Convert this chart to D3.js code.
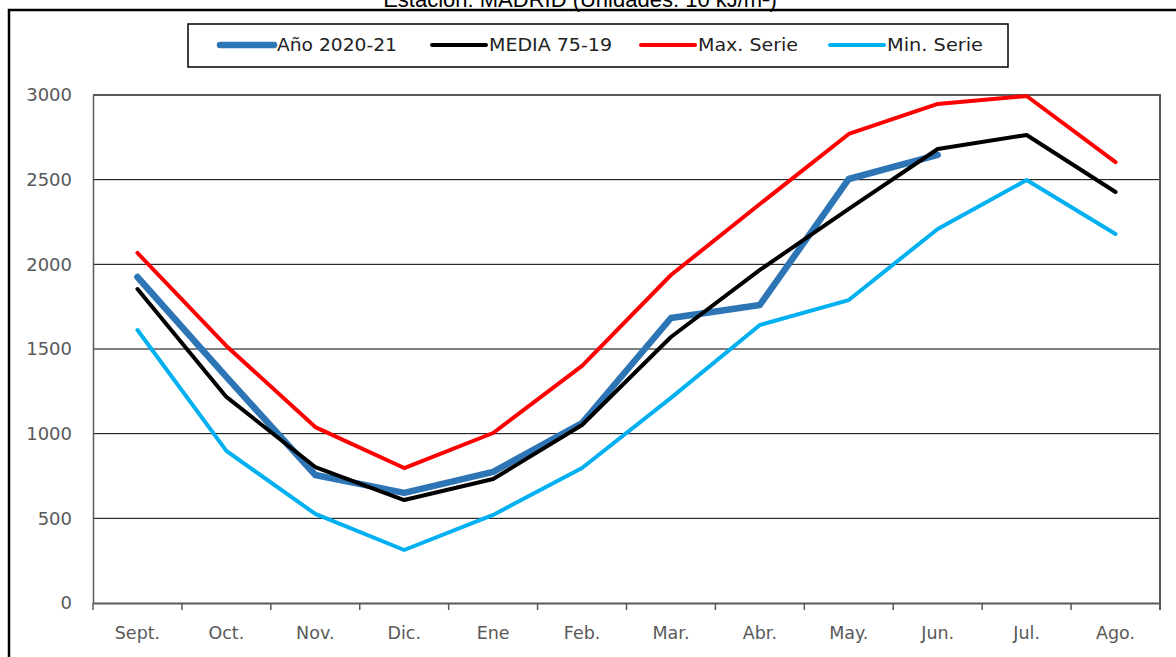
<!DOCTYPE html>
<meta charset="utf-8">
<style>
body { margin: 0; background: #fff; }
svg { display: block; font-family: "DejaVu Sans", Verdana, sans-serif; }
.tick text { fill: #595959; font-family: "DejaVu Sans", Verdana, sans-serif; }
</style>
<body>
<svg width="1176" height="657"></svg>
<script src="https://cdn.jsdelivr.net/npm/d3@7"></script>
<script>

// data
var months = ["Sept.", "Oct.", "Nov.", "Dic.", "Ene", "Feb.", "Mar.", "Abr.", "May.", "Jun.", "Jul.", "Ago."];
var ano2021 = [1925, 1335, 756, 650, 774, 1063, 1683, 1760, 2504, 2646];
var media = [1854, 1217, 803, 608, 732, 1051, 1571, 1967, 2327, 2681, 2764, 2427];
var maxSerie = [2067, 1518, 1039, 797, 1004, 1400, 1937, 2356, 2770, 2947, 2994, 2604];
var minSerie = [1612, 898, 526, 313, 520, 797, 1211, 1642, 1789, 2209, 2498, 2179];
var yTicks = [0, 500, 1000, 1500, 2000, 2500, 3000];

var series = [
  {name: "Año 2020-21", values: ano2021, color: "#2E75B6", width: 6.5, lx: 220, tl: 120},
  {name: "MEDIA 75-19", values: media, color: "#000000", width: 4, lx: 432, tl: 123},
  {name: "Max. Serie", values: maxSerie, color: "#FF0000", width: 4, lx: 641, tl: 100},
  {name: "Min. Serie", values: minSerie, color: "#00B0F0", width: 4, lx: 830, tl: 96}
];

var svg = d3.select("svg");
var pLeft = 93, pRight = 1160, pTop = 95, pBottom = 603;

// outer frame + title (cut off at the top as in the original)
svg.append("text")
    .attr("x", 580).attr("y", 7)
    .attr("text-anchor", "middle")
    .style("font-family", "Liberation Sans, Arial, sans-serif")
    .style("font-size", "22px")
    .text("Estación: MADRID (Unidades: 10 kJ/m²)");
svg.append("rect")
    .attr("x", 9).attr("y", 10)
    .attr("width", 1180).attr("height", 660)
    .attr("fill", "none").attr("stroke", "#000").attr("stroke-width", 2.5);

var x = d3.scaleBand().domain(months).range([pLeft, pRight]);
var y = d3.scaleLinear().domain([0, 3000]).range([pBottom, pTop]);

// gridlines
svg.append("g")
  .selectAll("line")
  .data(yTicks.slice(1, -1))
  .enter().append("line")
    .attr("x1", pLeft).attr("x2", pRight)
    .attr("y1", function(d) { return y(d); })
    .attr("y2", function(d) { return y(d); })
    .attr("stroke", "#000").attr("stroke-width", 1);

// plot border (top and right)
svg.append("path")
    .attr("d", "M" + pLeft + "," + pTop + "H" + pRight + "V" + (pBottom + 7))
    .attr("fill", "none").attr("stroke", "#595959").attr("stroke-width", 2);

// y axis
var yAxis = svg.append("g")
    .attr("transform", "translate(" + pLeft + ",0)")
    .call(d3.axisLeft(y).tickValues(yTicks).tickFormat(d3.format("d")).tickSize(0).tickPadding(21));
yAxis.select(".domain").attr("stroke", "#595959").attr("stroke-width", 1.5);
yAxis.selectAll("text").style("font-size", "18px");

// x axis
var xAxis = svg.append("g")
    .attr("transform", "translate(0," + pBottom + ")")
    .call(d3.axisBottom(x).tickSize(0).tickPadding(24));
xAxis.select(".domain").attr("stroke", "#595959").attr("stroke-width", 2);
xAxis.selectAll("text").style("font-size", "17.5px");
svg.append("g")
  .selectAll("line")
  .data(months)
  .enter().append("line")
    .attr("x1", function(d) { return x(d); })
    .attr("x2", function(d) { return x(d); })
    .attr("y1", pBottom).attr("y2", pBottom + 7)
    .attr("stroke", "#595959").attr("stroke-width", 1.5);

// lines
var line = d3.line()
    .x(function(d, i) { return x(months[i]) + x.bandwidth() / 2; })
    .y(function(d) { return y(d); });

var order = [2, 3, 0, 1];
order.forEach(function(k) {
  var s = series[k];
  svg.append("path")
      .attr("d", line(s.values))
      .attr("fill", "none")
      .attr("stroke", s.color)
      .attr("stroke-width", s.width)
      .attr("stroke-linejoin", "round")
      .attr("stroke-linecap", "round");
});

// legend
svg.append("rect")
    .attr("x", 188).attr("y", 24)
    .attr("width", 820).attr("height", 43)
    .attr("fill", "#fff").attr("stroke", "#000").attr("stroke-width", 1.5);

var leg = svg.append("g").selectAll("g")
    .data(series)
  .enter().append("g");
leg.append("line")
    .attr("x1", function(d) { return d.lx; })
    .attr("x2", function(d) { return d.lx + 54; })
    .attr("y1", 45).attr("y2", 45)
    .attr("stroke", function(d) { return d.color; })
    .attr("stroke-width", function(d) { return d.width; })
    .attr("stroke-linecap", "round");
leg.append("text")
    .attr("x", function(d) { return d.lx + 57; })
    .attr("y", 51)
    .attr("textLength", function(d) { return d.tl; })
    .attr("lengthAdjust", "spacingAndGlyphs")
    .style("font-size", "18px")
    .style("fill", "#222")
    .text(function(d) { return d.name; });

</script>
</body>
